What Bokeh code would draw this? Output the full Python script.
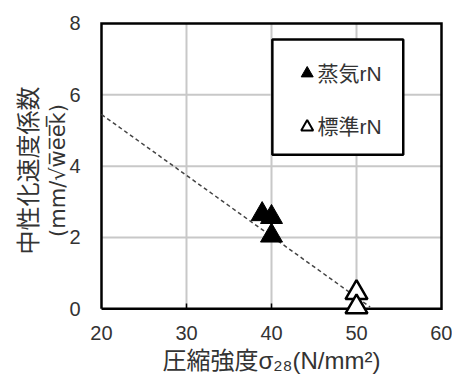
from bokeh.plotting import figure
from bokeh.models import FixedTicker, LinearAxis
from bokeh.core.properties import value
from bokeh.embed import file_html
from bokeh.resources import INLINE

# 蒸気養生 (steam cured) specimens
steam_x = [38.9, 40.0, 40.0]
steam_y = [2.65, 2.57, 2.05]
# 標準養生 (standard cured) specimens
std_x = [50.0, 50.0]
std_y = [0.45, 0.05]
# fitted trend line end points
fit_x = [20.0, 51.6]
fit_y = [5.45, 0.05]

x_ticks = [20, 30, 40, 50, 60]
y_ticks = [0, 2, 4, 6, 8]
legend_labels = ["蒸気rN", "標準rN"]

MIX = "Liberation Sans, Noto Sans CJK JP"
NUM = "Liberation Sans"
TXT = "#333333"

X0, X1 = x_ticks[0], x_ticks[-1]
Y0, Y1 = y_ticks[0], y_ticks[-1]

# the plotting area is padded a little so the frame lines and the
# markers sitting on the zero line are not clipped
p = figure(width=452, height=376,
           x_range=(X0 - 0.235, X1 + 0.235), y_range=(Y0 - 0.3, Y1 + 0.056),
           output_backend="svg", toolbar_location=None,
           min_border_left=99, min_border_right=9,
           min_border_top=21, min_border_bottom=57)
p.outline_line_color = None
p.background_fill_color = "white"
p.border_fill_color = "white"
p.xgrid.visible = False
p.ygrid.visible = False

for ax in (p.xaxis[0], p.yaxis[0]):
    ax.axis_line_color = None
    ax.major_tick_line_color = None
    ax.minor_tick_line_color = None
    ax.major_label_text_font = NUM
    ax.major_label_text_font_size = "20px"
    ax.major_label_text_color = TXT
p.xaxis[0].ticker = FixedTicker(ticks=x_ticks)
p.yaxis[0].ticker = FixedTicker(ticks=y_ticks)
p.xaxis[0].major_label_standoff = 0
p.yaxis[0].major_label_standoff = 13

# axis titles
p.xaxis[0].axis_label = "圧縮強度σ₂₈(N/mm²)"
p.xaxis[0].axis_label_text_font = MIX
p.xaxis[0].axis_label_text_font_size = "24px"
p.xaxis[0].axis_label_text_font_style = "normal"
p.xaxis[0].axis_label_text_color = TXT
p.xaxis[0].axis_label_standoff = 4

p.yaxis[0].axis_label = "(mm/√w\u0305e\u0305e\u0305k\u0305)"
p.yaxis[0].axis_label_text_font = "DejaVu Sans"
p.yaxis[0].axis_label_text_font_size = "21px"
p.yaxis[0].axis_label_text_font_style = "normal"
p.yaxis[0].axis_label_text_color = TXT
p.yaxis[0].axis_label_standoff = -4

outer = LinearAxis(ticker=FixedTicker(ticks=[]), axis_line_color=None,
                   major_tick_line_color=None, minor_tick_line_color=None,
                   axis_label="中性化速度係数", axis_label_text_font=MIX,
                   axis_label_text_font_size="24px",
                   axis_label_text_font_style="normal",
                   axis_label_text_color=TXT, axis_label_standoff=2)
p.add_layout(outer, "left")

# grid lines
inner_x = x_ticks[1:-1]
inner_y = y_ticks[1:-1]
p.segment(x0=inner_x, y0=[Y0] * len(inner_x), x1=inner_x, y1=[Y1] * len(inner_x),
          line_color="#c8c8c8", line_width=2)
p.segment(x0=[X0] * len(inner_y), y0=inner_y, x1=[X1] * len(inner_y), y1=inner_y,
          line_color="#c8c8c8", line_width=2)

# inward tick marks on the bottom axis
p.segment(x0=inner_x, y0=[Y0] * len(inner_x), x1=inner_x,
          y1=[Y0 + 0.15] * len(inner_x), line_color="black", line_width=1.5)

# frame
p.line([X0, X1, X1, X0, X0], [Y0, Y0, Y1, Y1, Y0],
       line_color="black", line_width=2.5, line_join="miter")

# trend line
p.line(fit_x, fit_y, line_color="#444444", line_width=1.5, line_dash="4 3")

# data points
p.scatter(steam_x, steam_y, marker="triangle", size=22,
          fill_color="black", line_color="black")
p.scatter(std_x, std_y, marker="triangle", size=22,
          fill_color="white", line_color="black", line_width=2.5)

# legend box
p.quad(left=[40.1], right=[55.5], bottom=[4.32], top=[7.55],
       fill_color="white", line_color="black", line_width=2.5)
p.scatter([44.2], [6.6], marker="triangle", size=12,
          fill_color="black", line_color="black")
p.scatter([44.2], [5.1], marker="triangle", size=12,
          fill_color="white", line_color="black", line_width=2)
p.text([45.4, 45.4], [6.6, 5.1], text=legend_labels,
       text_font=value(MIX), text_font_size="21px", text_color=TXT,
       text_baseline="middle", text_align="left")

open("out.html", "w").write(file_html(p, INLINE))
